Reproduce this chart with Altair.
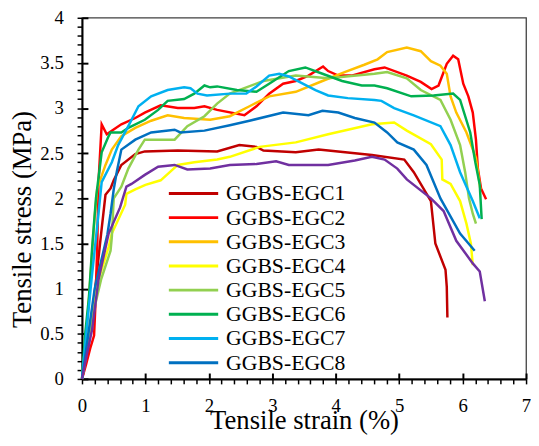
import altair as alt
import pandas as pd

names = ["GGBS-EGC1", "GGBS-EGC2", "GGBS-EGC3", "GGBS-EGC4", "GGBS-EGC5",
         "GGBS-EGC6", "GGBS-EGC7", "GGBS-EGC8", "GGBS-EGC9"]
colors = ["#C00000", "#FF0000", "#FFC000", "#FFFF00", "#92D050",
          "#00B050", "#00B0F0", "#0070C0", "#7030A0"]

x1 = [0, 0.1, 0.2, 0.3, 0.37, 0.45, 0.5, 0.62, 0.84, 0.99, 1.51, 2.13, 2.48, 2.75, 2.86, 3.37, 3.73, 4.15, 4.57, 5.08, 5.23, 5.5, 5.57, 5.73, 5.75, 5.76]
y1 = [0, 0.35, 0.95, 1.6, 2.04, 2.11, 2.2, 2.37, 2.49, 2.52, 2.53, 2.52, 2.59, 2.57, 2.53, 2.51, 2.54, 2.51, 2.48, 2.43, 2.29, 1.97, 1.5, 1.21, 1.02, 0.68]

x2 = [0, 0.06, 0.13, 0.19, 0.21, 0.24, 0.26, 0.31, 0.39, 0.47, 0.62, 0.84, 0.99, 1.24, 1.51, 1.77, 1.93, 2.13, 2.56, 2.75, 2.95, 3.17, 3.37, 3.57, 3.8, 3.88, 4.04, 4.25, 4.61, 4.77, 5.12, 5.34, 5.51, 5.62, 5.75, 5.85, 5.93, 6.01, 6.09, 6.16, 6.21, 6.24, 6.29, 6.37]
y2 = [0, 0.15, 0.34, 0.48, 0.8, 1.46, 2.18, 2.82, 2.71, 2.75, 2.82, 2.89, 2.95, 3.03, 3.0, 3.0, 3.02, 2.98, 2.92, 3.02, 3.16, 3.27, 3.3, 3.36, 3.46, 3.41, 3.36, 3.36, 3.43, 3.45, 3.36, 3.29, 3.21, 3.25, 3.49, 3.58, 3.54, 3.27, 3.13, 2.95, 2.65, 2.33, 2.11, 1.99]

x3 = [0, 0.08, 0.15, 0.2, 0.24, 0.37, 0.47, 0.62, 0.84, 1.09, 1.35, 1.61, 2.02, 2.33, 2.64, 2.95, 3.37, 3.79, 4.15, 4.45, 4.66, 4.81, 5.12, 5.34, 5.5, 5.65, 5.75, 5.81, 5.9, 6.06, 6.21, 6.28]
y3 = [0, 0.6, 1.3, 1.8, 2.11, 2.37, 2.54, 2.69, 2.78, 2.86, 2.92, 2.89, 2.87, 2.91, 3.02, 3.13, 3.18, 3.3, 3.4, 3.48, 3.54, 3.62, 3.67, 3.63, 3.52, 3.47, 3.38, 3.13, 2.95, 2.73, 2.45, 2.1]

x4 = [0, 0.05, 0.15, 0.26, 0.42, 0.47, 0.68, 0.7, 0.84, 1.0, 1.24, 1.51, 1.77, 2.13, 2.33, 2.8, 3.37, 3.88, 4.57, 4.92, 5.12, 5.5, 5.67, 5.68, 5.81, 5.96, 6.06, 6.13, 6.16]
y4 = [0, 0.25, 0.7, 1.1, 1.46, 1.61, 1.93, 2.05, 2.1, 2.15, 2.2, 2.37, 2.4, 2.43, 2.46, 2.57, 2.62, 2.71, 2.82, 2.84, 2.75, 2.6, 2.43, 2.21, 2.16, 1.97, 1.72, 1.5, 1.26]

x5 = [0, 0.1, 0.2, 0.3, 0.45, 0.47, 0.5, 0.62, 0.73, 0.89, 0.99, 1.46, 1.66, 1.93, 2.13, 2.33, 2.86, 3.37, 3.88, 4.61, 4.81, 5.12, 5.34, 5.65, 5.81, 5.96, 6.04, 6.1, 6.16, 6.21]
y5 = [0, 0.4, 0.8, 1.1, 1.42, 1.57, 2.0, 2.13, 2.33, 2.54, 2.65, 2.65, 2.8, 2.91, 3.05, 3.16, 3.3, 3.36, 3.33, 3.38, 3.4, 3.33, 3.2, 3.09, 2.87, 2.59, 2.29, 2.0, 1.83, 1.72]

x6 = [0, 0.05, 0.11, 0.16, 0.22, 0.31, 0.42, 0.45, 0.62, 0.73, 0.99, 1.2, 1.35, 1.61, 1.77, 1.93, 2.02, 2.13, 2.44, 2.75, 2.95, 3.26, 3.52, 3.79, 4.1, 4.41, 4.61, 4.81, 5.19, 5.54, 5.85, 5.96, 6.12, 6.2, 6.27, 6.3]
y6 = [0, 0.5, 0.91, 1.46, 2.0, 2.51, 2.69, 2.73, 2.73, 2.78, 2.87, 2.98, 3.08, 3.1, 3.16, 3.25, 3.23, 3.24, 3.2, 3.18, 3.27, 3.41, 3.45, 3.38, 3.3, 3.25, 3.25, 3.22, 3.13, 3.14, 3.16, 3.09, 2.73, 2.4, 2.15, 1.77]

x7 = [0, 0.08, 0.15, 0.21, 0.26, 0.31, 0.47, 0.57, 0.73, 0.89, 1.09, 1.35, 1.61, 1.71, 1.82, 1.97, 2.33, 2.59, 2.75, 2.95, 3.11, 3.26, 3.48, 3.68, 3.88, 4.19, 4.61, 4.72, 4.92, 5.23, 5.65, 5.81, 5.96, 6.16, 6.27]
y7 = [0, 0.6, 1.1, 1.5, 1.83, 2.18, 2.4, 2.59, 2.8, 3.02, 3.13, 3.2, 3.23, 3.22, 3.16, 3.14, 3.16, 3.16, 3.24, 3.36, 3.38, 3.35, 3.27, 3.2, 3.14, 3.11, 3.09, 3.08, 3.0, 2.92, 2.8, 2.59, 2.29, 1.97, 1.78]

x8 = [0, 0.1, 0.2, 0.3, 0.4, 0.45, 0.5, 0.55, 0.62, 0.84, 1.09, 1.46, 1.55, 1.93, 2.33, 2.64, 3.17, 3.57, 3.79, 4.04, 4.3, 4.61, 4.81, 4.97, 5.23, 5.43, 5.65, 5.96, 6.19]
y8 = [0, 0.5, 1.0, 1.3, 1.6, 1.83, 2.1, 2.3, 2.54, 2.65, 2.73, 2.76, 2.73, 2.75, 2.81, 2.86, 2.95, 2.92, 2.97, 2.95, 2.89, 2.84, 2.73, 2.62, 2.54, 2.37, 2.0, 1.61, 1.42]

x9 = [0, 0.07, 0.16, 0.26, 0.42, 0.6, 0.7, 0.78, 0.99, 1.2, 1.46, 1.66, 2.02, 2.33, 2.75, 3.06, 3.26, 3.88, 4.3, 4.57, 4.77, 4.97, 5.12, 5.5, 5.7, 5.9, 6.16, 6.27, 6.35]
y9 = [0, 0.25, 0.55, 1.1, 1.61, 1.9, 2.13, 2.16, 2.26, 2.35, 2.37, 2.32, 2.33, 2.37, 2.38, 2.41, 2.37, 2.37, 2.42, 2.46, 2.43, 2.33, 2.21, 2.0, 1.86, 1.53, 1.28, 1.19, 0.86]

xs = [x1, x2, x3, x4, x5, x6, x7, x8, x9]
ys = [y1, y2, y3, y4, y5, y6, y7, y8, y9]

x_minor = [round(k * 0.2, 1) for k in range(36)]
x_major = list(range(8))
y_minor = [round(k * 0.1, 1) for k in range(41)]
y_major = [round(k * 0.5, 1) for k in range(9)]

rows = []
for n, xx, yy in zip(names, xs, ys):
    for i, (a, b) in enumerate(zip(xx, yy)):
        rows.append({"name": n, "x": a, "y": b, "i": i})
df = pd.DataFrame(rows)

FONT = "Liberation Serif"
xscale = alt.Scale(domain=[0, 7], nice=False, zero=False)
yscale = alt.Scale(domain=[0, 4], nice=False, zero=False)

legend = alt.Legend(
    values=names[:8], orient="none", legendX=122, legendY=167, title=None,
    symbolType="M-9,0H1", symbolSize=100, symbolStrokeWidth=3,
    labelFont=FONT, labelFontSize=22, labelColor="black", labelOffset=2,
    rowPadding=2.5, padding=0, labelLimit=300,
)

lines = alt.Chart(df).mark_line(strokeWidth=2.5).encode(
    x=alt.X("x:Q", scale=xscale, title="Tensile strain (%)", axis=alt.Axis(
        orient="bottom", values=x_minor, format="~g",
        labelExpr="datum.value % 1 == 0 ? datum.label : ''",
        tickSize=5, tickWidth=1.5, tickColor="black",
        domainColor="black", domainWidth=2, grid=False,
        labelFont=FONT, labelFontSize=19, labelColor="black", labelPadding=13,
        labelFlush=False, labelOverlap=False,
        titleFont=FONT, titleFontSize=27, titleFontWeight="normal", titleColor="black",
        titleY=29)),
    y=alt.Y("y:Q", scale=yscale, title="Tensile stress (MPa)", axis=alt.Axis(
        orient="left", values=y_minor, format="~g",
        labelExpr="abs(datum.value * 2 - round(datum.value * 2)) < 0.001 ? datum.label : ''",
        tickSize=5, tickWidth=1.5, tickColor="black",
        domainColor="black", domainWidth=2, grid=False,
        labelFont=FONT, labelFontSize=19, labelColor="black", labelPadding=14,
        labelOverlap=False, labelFlush=False,
        titleFont=FONT, titleFontSize=27, titleFontWeight="normal", titleColor="black",
        titleAngle=270, titleX=-46, titleY=204, titleAlign="center")),
    color=alt.Color("name:N", scale=alt.Scale(domain=names, range=colors), legend=legend),
    order="i:Q",
)

inner = alt.Chart(df).mark_point(opacity=0).encode(
    x=alt.X("x:Q", scale=xscale, axis=alt.Axis(
        orient="bottom", values=x_major, offset=-6, tickSize=6, tickWidth=2,
        tickColor="black", domain=False, labels=False, grid=False, title=None)),
    y=alt.Y("y:Q", scale=yscale, axis=alt.Axis(
        orient="left", values=y_major, offset=-6, tickSize=6, tickWidth=2,
        tickColor="black", domain=False, labels=False, grid=False, title=None)),
)

chart = alt.layer(lines, inner).resolve_axis(x="independent", y="independent").properties(
    width=450, height=366,
    autosize=alt.AutoSizeParams(type="none"),
    padding={"left": 75, "top": 7, "right": 5, "bottom": 62},
    view=alt.ViewBackground(stroke="#404040", strokeWidth=1.3),
).configure(font=FONT)

chart.save("out.html", embed_options={"renderer": "svg", "actions": False})
